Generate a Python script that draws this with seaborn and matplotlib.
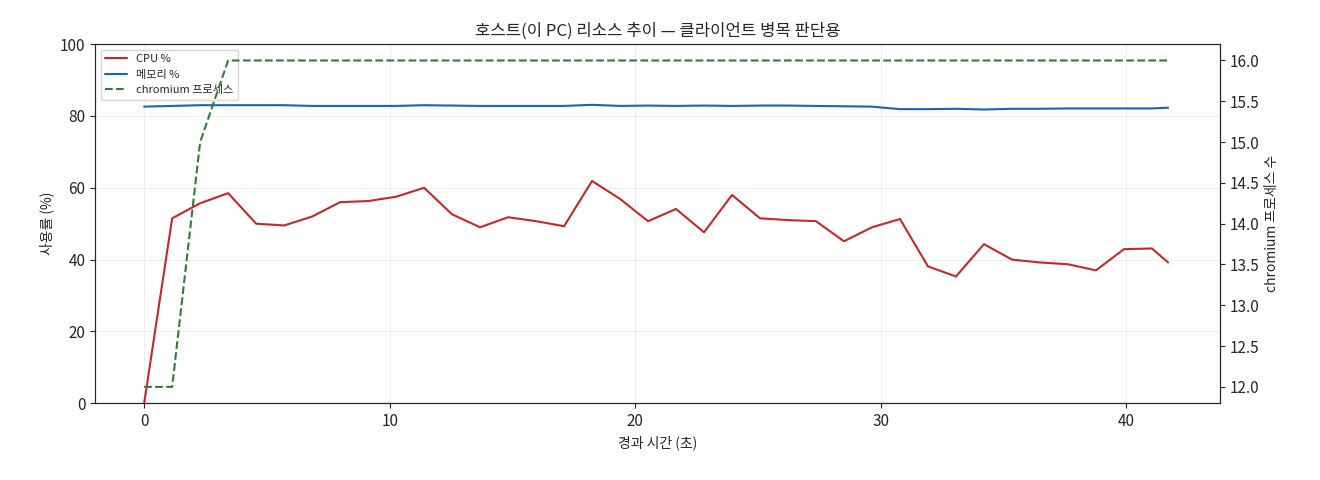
import matplotlib
matplotlib.use("Agg")
import matplotlib.pyplot as plt
import seaborn as sns
import pandas as pd

# elapsed seconds (sampled ~1.14 s apart)
t = [0, 1.14, 2.28, 3.42, 4.56, 5.7, 6.84, 7.98, 9.12, 10.26, 11.4, 12.54, 13.68,
     14.82, 15.96, 17.1, 18.24, 19.38, 20.52, 21.66, 22.8, 23.94, 25.08, 26.22,
     27.36, 28.5, 29.64, 30.78, 31.92, 33.06, 34.2, 35.34, 36.48, 37.62, 38.76,
     39.9, 41.04, 41.7]
cpu = [0, 51.5, 55.7, 58.5, 50, 49.5, 52, 56, 56.3, 57.5, 60, 52.6, 49, 51.8, 50.7,
       49.3, 61.9, 56.9, 50.7, 54.1, 47.6, 58, 51.5, 51, 50.7, 45.1, 49, 51.3, 38.1,
       35.3, 44.3, 40, 39.2, 38.7, 37, 42.9, 43.1, 39.2]
mem = [82.6, 82.8, 83, 83, 83, 83, 82.8, 82.8, 82.8, 82.8, 83, 82.9, 82.8, 82.8,
       82.8, 82.8, 83.1, 82.8, 82.9, 82.8, 82.9, 82.8, 82.9, 82.9, 82.8, 82.7, 82.6,
       81.9, 81.9, 82, 81.8, 82, 82, 82.1, 82.1, 82.1, 82.1, 82.3]
chrom = [12, 12, 15, 16, 16, 16, 16, 16, 16, 16, 16, 16, 16, 16, 16, 16, 16, 16, 16,
         16, 16, 16, 16, 16, 16, 16, 16, 16, 16, 16, 16, 16, 16, 16, 16, 16, 16, 16]

df = pd.DataFrame({"t": t, "cpu": cpu, "mem": mem, "chrom": chrom})

sns.set_style("ticks")
plt.rcParams['font.family'] = ['Noto Sans CJK KR', 'DejaVu Sans']
plt.rcParams['font.size'] = 11

fig, ax = plt.subplots(figsize=(13.2, 4.8), dpi=100)
sns.lineplot(data=df, x="t", y="cpu", ax=ax, color="#c62828", lw=1.5, label="CPU %", legend=False)
sns.lineplot(data=df, x="t", y="mem", ax=ax, color="#1565c0", lw=1.5, label="메모리 %", legend=False)
ax.set_ylim(0, 100)
ax.set_xlim(-2, 43.8)
ax.set_xlabel("경과 시간 (초)", fontsize=10)
ax.set_ylabel("사용률 (%)", fontsize=10)
ax.grid(True, alpha=0.3)

ax2 = ax.twinx()
sns.lineplot(data=df, x="t", y="chrom", ax=ax2, color="#2e7d32", lw=1.5, ls="--",
             label="chromium 프로세스", legend=False)
ax2.set_ylim(11.8, 16.2)
ax2.set_ylabel("chromium 프로세스 수", fontsize=10)

h1, l1 = ax.get_legend_handles_labels()
h2, l2 = ax2.get_legend_handles_labels()
ax.legend(h1 + h2, l1 + l2, loc="upper left", fontsize=8)
ax.set_title("호스트(이 PC) 리소스 추이 — 클라이언트 병목 판단용", fontsize=12)

fig.subplots_adjust(left=0.072, right=0.924, top=0.908, bottom=0.16)
fig.savefig("out.png")
